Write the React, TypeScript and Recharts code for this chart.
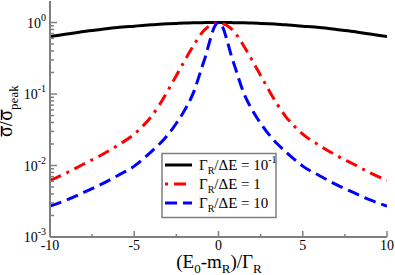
import React from "react";
import { LineChart, Line, XAxis, YAxis } from "recharts";

// values (log y axis)
const X_VALUES = [-10, -9, -8, -7, -6, -5, -4.5, -4, -3.5, -3, -2.5, -2, -1.5, -1, -0.75, -0.5, -0.25, 0, 0.25, 0.5, 0.75, 1, 1.5, 2, 2.5, 3, 3.5, 4, 4.5, 5, 6, 7, 8, 9, 10];

const BLACK = [0.635, 0.69, 0.75, 0.8, 0.85, 0.89, 0.91, 0.93, 0.945, 0.96, 0.972, 0.982, 0.99, 0.995, 0.997, 0.999, 1, 1, 1, 0.999, 0.997, 0.995, 0.99, 0.982, 0.972, 0.96, 0.945, 0.93, 0.91, 0.89, 0.85, 0.8, 0.75, 0.69, 0.635];

const RED = [0.0062, 0.0079, 0.0105, 0.0138, 0.019, 0.0275, 0.0355, 0.048, 0.071, 0.112, 0.182, 0.295, 0.47, 0.71, 0.82, 0.91, 0.97, 1, 0.97, 0.91, 0.82, 0.71, 0.47, 0.295, 0.182, 0.112, 0.071, 0.048, 0.0355, 0.0275, 0.019, 0.0138, 0.0105, 0.0079, 0.0062];

const BLUE = [0.0027, 0.0033, 0.0042, 0.0054, 0.0072, 0.0098, 0.0122, 0.0155, 0.02, 0.027, 0.039, 0.06, 0.103, 0.23, 0.35, 0.57, 0.86, 1, 0.86, 0.57, 0.35, 0.23, 0.103, 0.06, 0.039, 0.027, 0.02, 0.0155, 0.0122, 0.0098, 0.0072, 0.0054, 0.0042, 0.0033, 0.0027];

const X_TICKS = [-10, -7.5, -5, -2.5, 0, 2.5, 5, 7.5, 10];
const Y_TICKS = [
  0.001, 0.002, 0.003, 0.004, 0.005, 0.006, 0.007, 0.008, 0.009,
  0.01, 0.02, 0.03, 0.04, 0.05, 0.06, 0.07, 0.08, 0.09,
  0.1, 0.2, 0.3, 0.4, 0.5, 0.6, 0.7, 0.8, 0.9,
  1,
];

const data = X_VALUES.map((x, i) => ({ x, black: BLACK[i], red: RED[i], blue: BLUE[i] }));

const AXIS = "#7f7f7f";
const FONT = "'Liberation Serif', 'Times New Roman', serif";
const RED_DASH = "12 6 3 6";
const BLUE_DASH = "12 6";

const isMajorX = (v: number) => v % 5 === 0;
const isMajorY = (v: number) => Math.abs(Math.log10(v) - Math.round(Math.log10(v))) < 1e-6;

function BottomTick({ x, y, payload }: any) {
  const major = isMajorX(payload.value);
  return (
    <g>
      <line x1={x} x2={x} y1={y} y2={y - (major ? 6 : 3)} stroke={AXIS} strokeWidth={1.5} />
      {major && (
        <text x={x} y={y + 13} textAnchor="middle" fontSize={14} fontFamily={FONT} fill="#000">
          {String(payload.value)}
        </text>
      )}
    </g>
  );
}

function TopTick({ x, y, payload }: any) {
  const major = isMajorX(payload.value);
  return <line x1={x} x2={x} y1={y} y2={y + (major ? 6 : 3)} stroke={AXIS} strokeWidth={1.5} />;
}

function LeftTick({ x, y, payload }: any) {
  const major = isMajorY(payload.value);
  const exp = Math.round(Math.log10(payload.value));
  return (
    <g>
      <line x1={x} x2={x + (major ? 7 : 4)} y1={y} y2={y} stroke={AXIS} strokeWidth={1.5} />
      {major && (
        <text x={x - 4} y={y + 5} textAnchor="end" fontSize={14} fontFamily={FONT} fill="#000">
          <tspan>10</tspan>
          <tspan dy={-7} fontSize={10}>{String(exp)}</tspan>
        </text>
      )}
    </g>
  );
}

function RightTick({ x, y, payload }: any) {
  const major = isMajorY(payload.value);
  return <line x1={x} x2={x - (major ? 7 : 4)} y1={y} y2={y} stroke={AXIS} strokeWidth={1.5} />;
}

function Overlay() {
  const rows = [
    { y: 165, color: "#000000", dash: undefined as string | undefined, offset: 0, label: "10", sup: "-1" },
    { y: 184, color: "#ff0000", dash: RED_DASH, offset: 18, label: "1", sup: "" },
    { y: 203, color: "#0000ff", dash: BLUE_DASH, offset: 0, label: "10", sup: "" },
  ];
  return (
    <svg
      width={395}
      height={275}
      style={{ position: "absolute", left: 0, top: 0, pointerEvents: "none" }}
      fontFamily={FONT}
    >
      {/* legend */}
      <rect x={162} y={153.5} width={114} height={64} fill="#fff" stroke={AXIS} strokeWidth={1.5} />
      {rows.map((r) => (
        <g key={r.y}>
          <line
            x1={165}
            x2={192}
            y1={r.y}
            y2={r.y}
            stroke={r.color}
            strokeWidth={3}
            strokeDasharray={r.dash}
            strokeDashoffset={r.offset}
          />
          <text x={199} y={r.y + 5} fontSize={15} fill="#000">
            <tspan>Γ</tspan>
            <tspan dy={4} fontSize={10}>R</tspan>
            <tspan dy={-4}>{`/ΔE = ${r.label}`}</tspan>
            {r.sup && (
              <tspan dy={-7} fontSize={10}>
                {r.sup}
              </tspan>
            )}
          </text>
        </g>
      ))}

      {/* axis titles */}
      <text x={219} y={268} textAnchor="middle" fontSize={19} fill="#000">
        <tspan>(E</tspan>
        <tspan dy={5} fontSize={13}>0</tspan>
        <tspan dy={-5}>-m</tspan>
        <tspan dy={5} fontSize={13}>R</tspan>
        <tspan dy={-5}>)/Γ</tspan>
        <tspan dy={5} fontSize={13}>R</tspan>
      </text>
      <g transform="translate(11.5,112.5) rotate(-90)">
        <text x={-24.5} y={0} fontSize={20} fill="#000">
          <tspan>σ/σ</tspan>
          <tspan dy={6} fontSize={13}>peak</tspan>
        </text>
        <line x1={-24} x2={-13.5} y1={-10} y2={-10} stroke="#000" strokeWidth={1.3} />
        <line x1={-7.5} x2={3} y1={-10} y2={-10} stroke="#000" strokeWidth={1.3} />
      </g>
    </svg>
  );
}

export default function App() {
  return (
    <div style={{ position: "fixed", left: 0, top: 0, width: 395, height: 275, background: "#fff" }}>
      <LineChart width={395} height={275} data={data} margin={{ top: 1, right: 8, bottom: 0, left: 0 }}>
        <XAxis
          dataKey="x"
          type="number"
          domain={[-10, 10]}
          ticks={X_TICKS}
          interval={0}
          allowDataOverflow
          height={38}
          tickSize={0}
          tickMargin={0}
          tick={<BottomTick />}
          axisLine={{ stroke: AXIS, strokeWidth: 2 }}
          tickLine={false}
        />
        <XAxis
          xAxisId="top"
          orientation="top"
          dataKey="x"
          type="number"
          domain={[-10, 10]}
          ticks={X_TICKS}
          interval={0}
          allowDataOverflow
          height={0}
          tickSize={0}
          tickMargin={0}
          tick={<TopTick />}
          axisLine={{ stroke: AXIS, strokeWidth: 2 }}
          tickLine={false}
        />
        <YAxis
          scale="log"
          domain={[0.001, 2]}
          ticks={Y_TICKS}
          interval={0}
          allowDataOverflow
          width={50}
          tickSize={0}
          tickMargin={0}
          tick={<LeftTick />}
          axisLine={{ stroke: AXIS, strokeWidth: 2 }}
          tickLine={false}
        />
        <YAxis
          yAxisId="right"
          orientation="right"
          scale="log"
          domain={[0.001, 2]}
          ticks={Y_TICKS}
          interval={0}
          allowDataOverflow
          width={0}
          tickSize={0}
          tickMargin={0}
          tick={<RightTick />}
          axisLine={{ stroke: AXIS, strokeWidth: 2 }}
          tickLine={false}
        />
        <Line type="monotone" dataKey="black" stroke="#000000" strokeWidth={3} dot={false} isAnimationActive={false} />
        <Line
          type="monotone"
          dataKey="red"
          stroke="#ff0000"
          strokeWidth={3}
          strokeDasharray={RED_DASH}
          dot={false}
          isAnimationActive={false}
        />
        <Line
          type="monotone"
          dataKey="blue"
          stroke="#0000ff"
          strokeWidth={3}
          strokeDasharray={BLUE_DASH}
          dot={false}
          isAnimationActive={false}
        />
      </LineChart>
      <Overlay />
    </div>
  );
}
